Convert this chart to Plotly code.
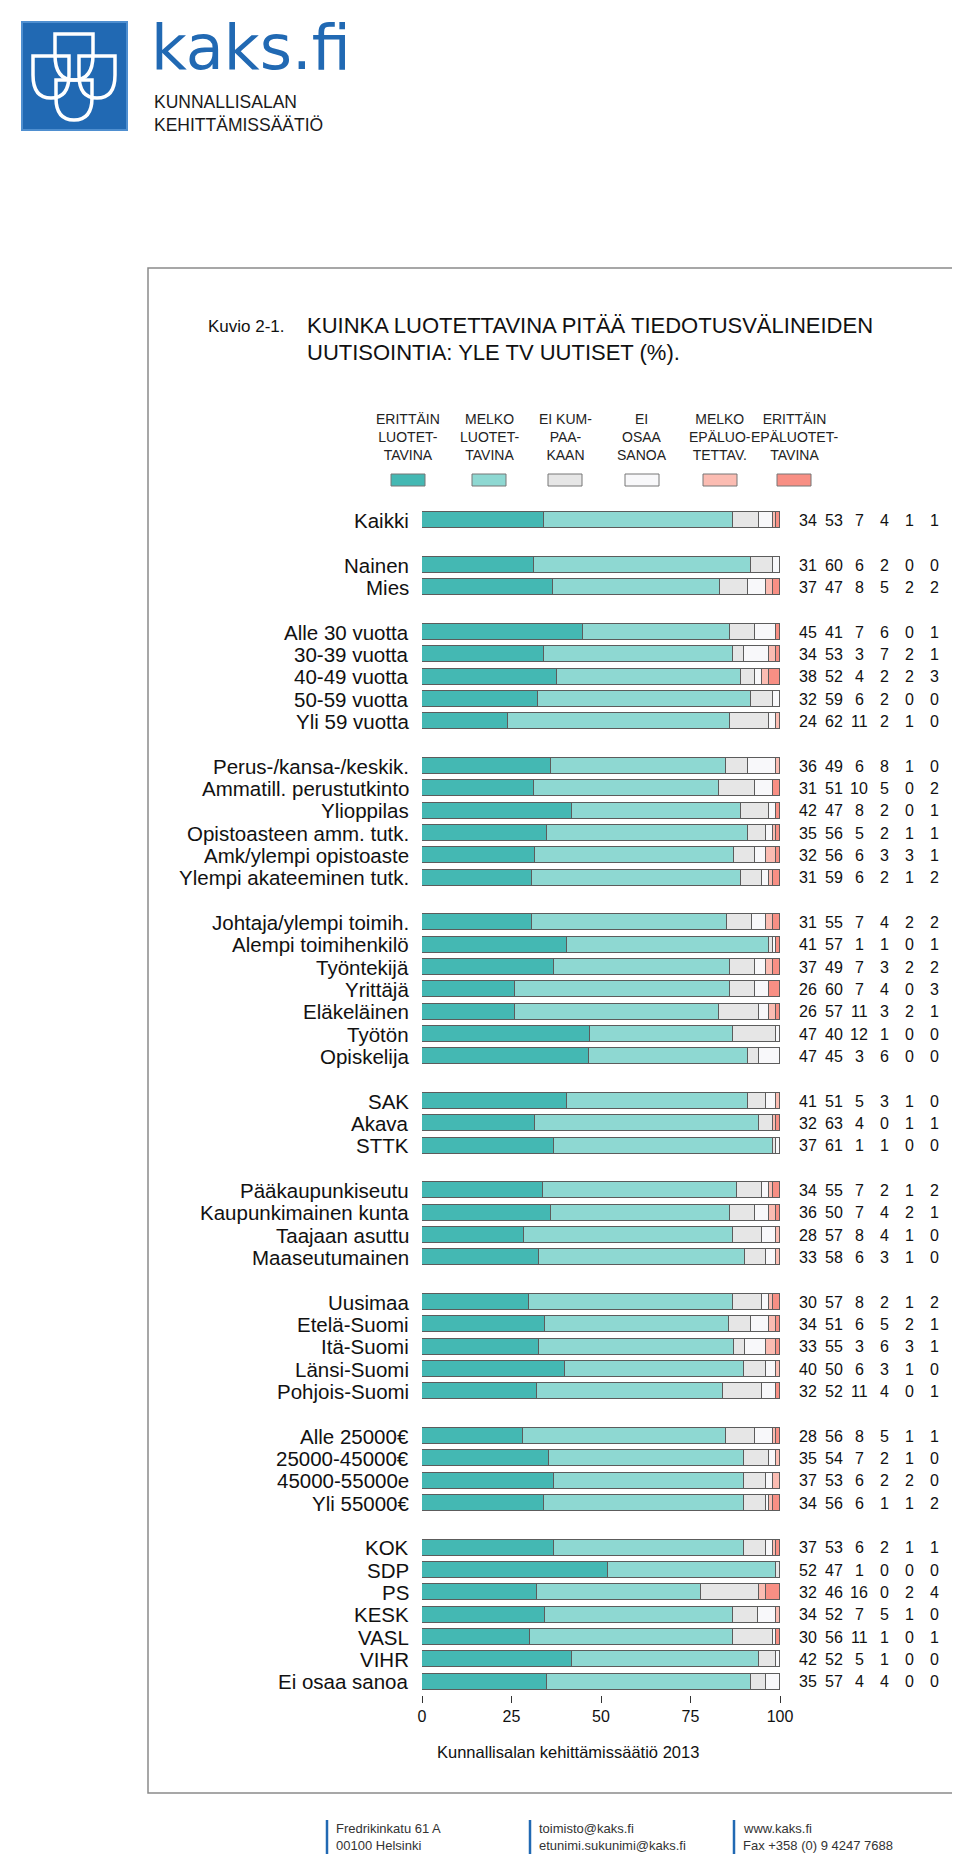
import plotly.graph_objects as go

# ---------------- data ----------------
categories = ["ERITTÄIN<br>LUOTET-<br>TAVINA", "MELKO<br>LUOTET-<br>TAVINA", "EI KUM-<br>PAA-<br>KAAN",
              "EI<br>OSAA<br>SANOA", "MELKO<br>EPÄLUO-<br>TETTAV.", "ERITTÄIN<br>EPÄLUOTET-<br>TAVINA"]
colors = ["#44b8b3", "#8ed8d2", "#e6e6e6", "#f8f8fa", "#fbbcb2", "#f88f84"]

groups = [
    ["Kaikki"],
    ["Nainen", "Mies"],
    ["Alle 30 vuotta", "30-39 vuotta", "40-49 vuotta", "50-59 vuotta", "Yli 59 vuotta"],
    ["Perus-/kansa-/keskik.", "Ammatill. perustutkinto", "Ylioppilas", "Opistoasteen amm. tutk.",
     "Amk/ylempi opistoaste", "Ylempi akateeminen tutk."],
    ["Johtaja/ylempi toimih.", "Alempi toimihenkilö", "Työntekijä", "Yrittäjä", "Eläkeläinen",
     "Työtön", "Opiskelija"],
    ["SAK", "Akava", "STTK"],
    ["Pääkaupunkiseutu", "Kaupunkimainen kunta", "Taajaan asuttu", "Maaseutumainen"],
    ["Uusimaa", "Etelä-Suomi", "Itä-Suomi", "Länsi-Suomi", "Pohjois-Suomi"],
    ["Alle 25000€", "25000-45000€", "45000-55000e", "Yli 55000€"],
    ["KOK", "SDP", "PS", "KESK", "VASL", "VIHR", "Ei osaa sanoa"],
]

erittain_luot = [34, 31, 37, 45, 34, 38, 32, 24, 36, 31, 42, 35, 32, 31, 31, 41, 37, 26, 26, 47, 47,
                 41, 32, 37, 34, 36, 28, 33, 30, 34, 33, 40, 32, 28, 35, 37, 34, 37, 52, 32, 34, 30, 42, 35]
melko_luot = [53, 60, 47, 41, 53, 52, 59, 62, 49, 51, 47, 56, 56, 59, 55, 57, 49, 60, 57, 40, 45,
              51, 63, 61, 55, 50, 57, 58, 57, 51, 55, 50, 52, 56, 54, 53, 56, 53, 47, 46, 52, 56, 52, 57]
ei_kumpaakaan = [7, 6, 8, 7, 3, 4, 6, 11, 6, 10, 8, 5, 6, 6, 7, 1, 7, 7, 11, 12, 3,
                 5, 4, 1, 7, 7, 8, 6, 8, 6, 3, 6, 11, 8, 7, 6, 6, 6, 1, 16, 7, 11, 5, 4]
ei_osaa = [4, 2, 5, 6, 7, 2, 2, 2, 8, 5, 2, 2, 3, 2, 4, 1, 3, 4, 3, 1, 6,
           3, 0, 1, 2, 4, 4, 3, 2, 5, 6, 3, 4, 5, 2, 2, 1, 2, 0, 0, 5, 1, 1, 4]
melko_epaluot = [1, 0, 2, 0, 2, 2, 0, 1, 1, 0, 0, 1, 3, 1, 2, 0, 2, 0, 2, 0, 0,
                 1, 1, 0, 1, 2, 1, 1, 1, 2, 3, 1, 0, 1, 1, 2, 1, 1, 0, 2, 1, 0, 0, 0]
erittain_epaluot = [1, 0, 2, 1, 1, 3, 0, 0, 0, 2, 1, 1, 1, 2, 2, 1, 2, 3, 1, 0, 0,
                    0, 1, 0, 2, 1, 0, 0, 2, 1, 1, 0, 1, 1, 0, 0, 2, 1, 0, 4, 0, 1, 0, 0]
series = [erittain_luot, melko_luot, ei_kumpaakaan, ei_osaa, melko_epaluot, erittain_epaluot]

tick_vals = [0, 25, 50, 75, 100]

# ---------------- layout helpers ----------------
W, H = 960, 1857
PL, PR, PT, PB = 414, 772, 499, 1687      # plot area in pixels
ROW = 22.333                               # pixels per slot


def px(x):
    return (x - PL) / (PR - PL)


def py(y):
    return (PB - y) / (PB - PT)


REG = "Liberation Sans, Arial, sans-serif"

# slot positions (one empty slot between groups)
labels, slots = [], []
s = 0
for g in groups:
    for lab in g:
        labels.append(lab)
        slots.append(s)
        s += 1
    s += 1

# normalise rows to 100 for drawing
totals = [sum(col) for col in zip(*series)]
norm = [[v * 100.0 / t for v, t in zip(ser, totals)] for ser in series]

fig = go.Figure()
for name, vals, col in zip(categories, norm, colors):
    fig.add_trace(go.Bar(
        y=slots, x=vals, orientation="h", width=0.72, name=name.replace("<br>", " "),
        marker=dict(color=col, line=dict(color="#5c5c5c", width=1)),
        showlegend=False, hoverinfo="skip"))

ann = []
# row labels
for lab, sl in zip(labels, slots):
    ann.append(dict(x=px(403), xref="paper", y=sl, yref="y", text=lab, showarrow=False,
                    xanchor="right", yanchor="middle", font=dict(family=REG, size=20.5, color="#111")))
# numbers
num_x = [800, 826, 851, 876, 901, 926]
for ser, nx in zip(series, num_x):
    for v, sl in zip(ser, slots):
        ann.append(dict(x=px(nx), xref="paper", y=sl, yref="y", text=str(v), showarrow=False,
                        xanchor="center", yanchor="middle", font=dict(family=REG, size=16, color="#111")))

# legend
leg_x = [400, 481, 557, 634, 712, 786]
shapes = []
for name, col, lx in zip(categories, colors, leg_x):
    ann.append(dict(x=px(lx), xref="paper", y=py(429), yref="paper", text=name, showarrow=False,
                    xanchor="center", yanchor="middle", align="center",
                    font=dict(family=REG, size=14, color="#222")))
    shapes.append(dict(type="rect", xref="paper", yref="paper", x0=px(lx - 17), x1=px(lx + 17),
                       y0=py(478), y1=py(466), fillcolor=col, line=dict(color="#777", width=1)))

# title
ann.append(dict(x=px(198), xref="paper", y=py(319), yref="paper", text="Kuvio 2-1.", showarrow=False,
                xanchor="left", yanchor="middle", font=dict(family=REG, size=17, color="#111")))
ann.append(dict(x=px(297), xref="paper", y=py(317), yref="paper",
                text="KUINKA LUOTETTAVINA PITÄÄ TIEDOTUSVÄLINEIDEN", showarrow=False,
                xanchor="left", yanchor="middle", font=dict(family=REG, size=22, color="#111")))
ann.append(dict(x=px(297), xref="paper", y=py(344), yref="paper",
                text="UUTISOINTIA: YLE TV UUTISET (%).", showarrow=False,
                xanchor="left", yanchor="middle", font=dict(family=REG, size=22, color="#111")))
# source
ann.append(dict(x=px(560), xref="paper", y=py(1744), yref="paper", text="Kunnallisalan kehittämissäätiö 2013",
                showarrow=False, xanchor="center", yanchor="middle", font=dict(family=REG, size=16.5, color="#111")))

# outer frame
shapes.append(dict(type="rect", xref="paper", yref="paper", x0=px(140), x1=px(957), y0=py(1785), y1=py(260),
                   line=dict(color="#8a8a8a", width=1.5), fillcolor="rgba(0,0,0,0)", layer="below"))

# logo
BLUE = "#2169b3"
shapes.append(dict(type="rect", xref="paper", yref="paper", x0=px(14), x1=px(119), y0=py(122), y1=py(14),
                   fillcolor=BLUE, line=dict(color="#4f8fd0", width=2)))


def shield(x0, x1, yt, yb):
    xc = (x0 + x1) / 2
    ym = yt + 0.45 * (yb - yt)
    return ("M {a},{b} L {c},{b} L {c},{d} Q {c},{e} {f},{e} Q {a},{e} {a},{d} Z"
            .format(a=px(x0), b=py(yt), c=px(x1), d=py(ym), e=py(yb), f=px(xc)))


for (x0, x1, yt, yb) in [(47, 85, 26, 72), (25, 61, 48, 90), (71, 107, 48, 90), (48, 84, 72, 112)]:
    shapes.append(dict(type="path", xref="paper", yref="paper", path=shield(x0, x1, yt, yb),
                       line=dict(color="white", width=3.5), fillcolor="rgba(0,0,0,0)"))

ann.append(dict(x=px(141), xref="paper", y=py(0.5), yref="paper", text="kaks.fi", showarrow=False,
                xanchor="left", yanchor="top", font=dict(family="DejaVu Sans, Liberation Sans, sans-serif",
                                                         size=62, color=BLUE)))
ann.append(dict(x=px(144), xref="paper", y=py(94), yref="paper", text="KUNNALLISALAN", showarrow=False,
                xanchor="left", yanchor="middle", font=dict(family=REG, size=17.5, color="#1a1a1a")))
ann.append(dict(x=px(144), xref="paper", y=py(116.8), yref="paper", text="KEHITTÄMISSÄÄTIÖ", showarrow=False,
                xanchor="left", yanchor="middle", font=dict(family=REG, size=17.5, color="#1a1a1a")))

# footer address block
foot = [(319, "Fredrikinkatu 61 A", "00100 Helsinki"),
        (522, "toimisto@kaks.fi", "etunimi.sukunimi@kaks.fi"),
        (726, "www.kaks.fi", "Fax +358 (0) 9 4247 7688")]
for fx, l1, l2 in foot:
    shapes.append(dict(type="line", xref="paper", yref="paper", x0=px(fx), x1=px(fx), y0=py(1846), y1=py(1812),
                       line=dict(color=BLUE, width=2.5)))
    ann.append(dict(x=px(fx + 7), xref="paper", y=py(1820), yref="paper", text=l1, showarrow=False,
                    xanchor="left", yanchor="middle", font=dict(family=REG, size=13, color="#333")))
    ann.append(dict(x=px(fx + 7), xref="paper", y=py(1837), yref="paper", text=l2, showarrow=False,
                    xanchor="left", yanchor="middle", font=dict(family=REG, size=13, color="#333")))

fig.update_layout(
    width=W, height=H, autosize=False,
    margin=dict(l=PL, r=W - PR, t=PT, b=H - PB, pad=0),
    barmode="stack", bargap=0,
    paper_bgcolor="white", plot_bgcolor="white",
    xaxis=dict(range=[0, 100], tickvals=tick_vals, ticktext=[str(t) for t in tick_vals],
               ticks="outside", ticklen=7, tickcolor="#333", tickwidth=1,
               showgrid=False, zeroline=False, showline=False,
               tickfont=dict(family=REG, size=16, color="#111")),
    yaxis=dict(range=[-0.6 + (PB - PT) / ROW, -0.6], showticklabels=False, ticks="",
               showgrid=False, zeroline=False, showline=False),
    annotations=ann, shapes=shapes,
)

fig.write_html("out.html")
